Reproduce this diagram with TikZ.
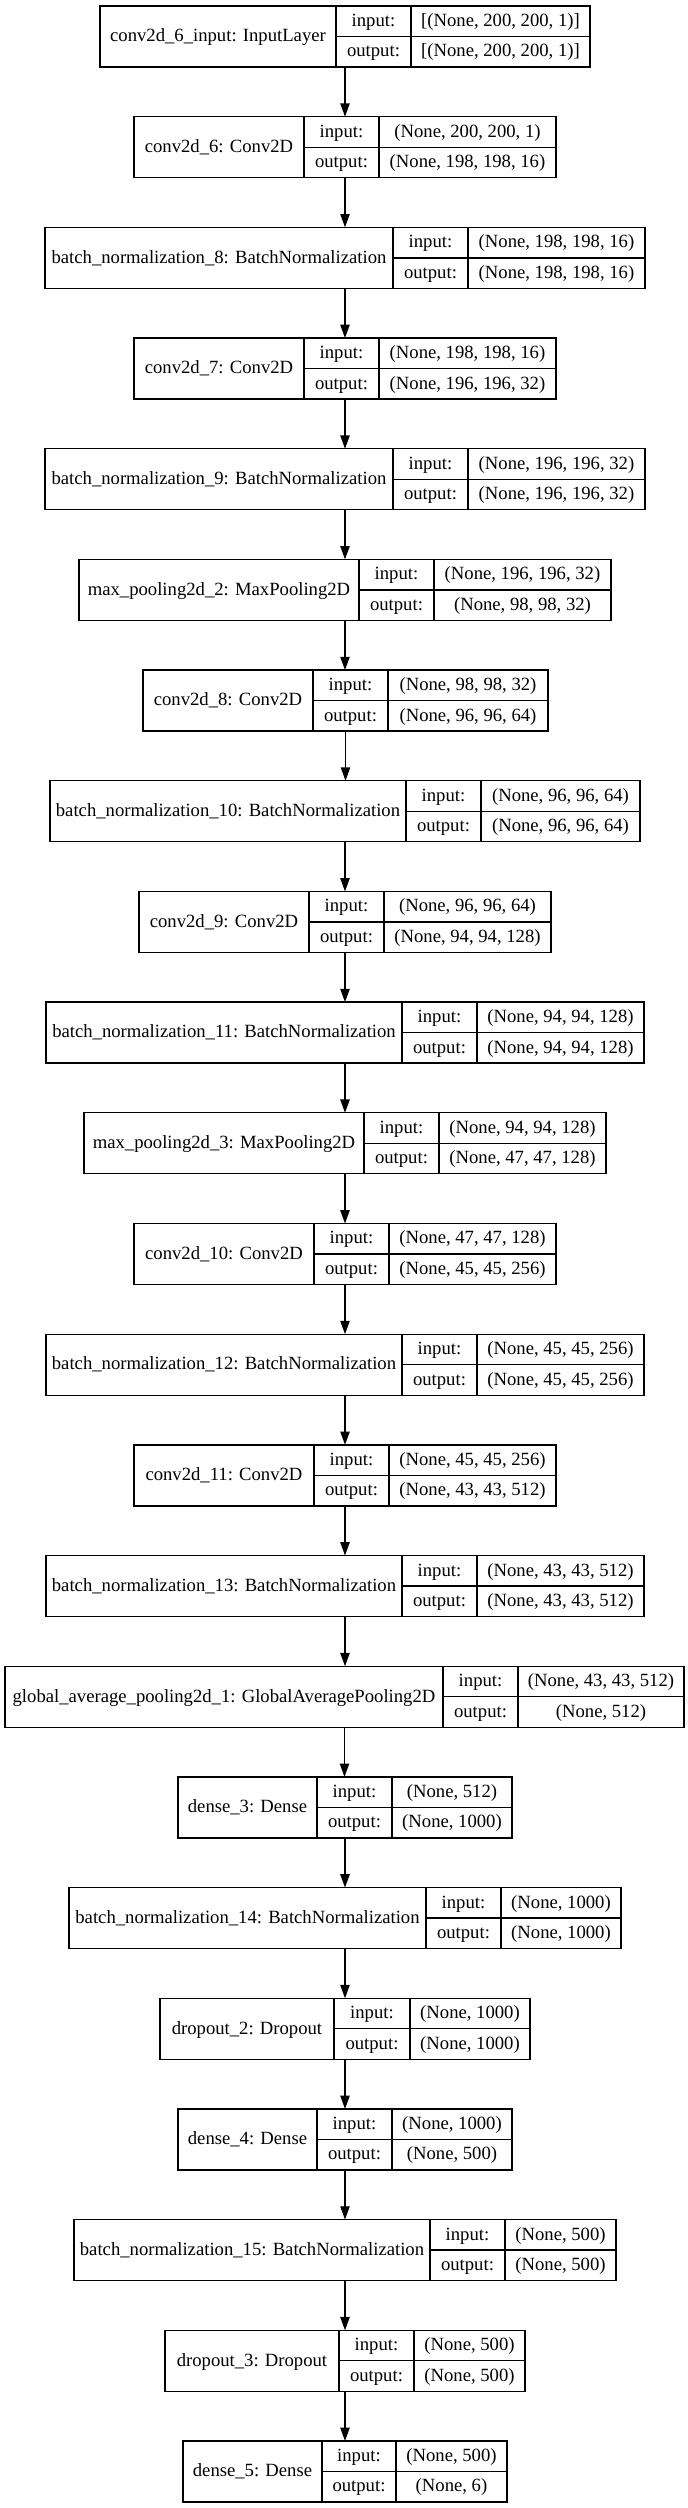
\documentclass[tikz,border=0pt]{standalone}
\usepackage{fontspec}
\setmainfont{Liberation Serif}
\usetikzlibrary{arrows.meta}
\tikzset{
  box/.style={draw=black, line width=1pt, inner sep=0pt, outer sep=0pt, minimum height=45.75pt},
  cellline/.style={draw=black, line width=1pt},
  txt/.style={inner sep=0pt, outer sep=0pt, anchor=base, font=\fontsize{14pt}{16pt}\selectfont},
  arr/.style={draw=black, line width=1pt, -{Triangle[length=10pt,width=7pt]}}
}
% #1 index, #2 left, #3 divider1, #4 divider2, #5 right, #6 label, #7 input, #8 output
\newcommand{\layerbox}[8]{%
  \pgfmathsetmacro{\ly}{6+110.68*#1}%
  \node[box, minimum width={(#5-#2)*0.75pt}, anchor=north west] (L#1) at ({#2},{\ly}) {};
  \draw[cellline] ({#3},{\ly}) -- ({#3},{\ly+61});
  \draw[cellline] ({#4},{\ly}) -- ({#4},{\ly+61});
  \draw[cellline] ({#3},{\ly+30.5}) -- ({#5},{\ly+30.5});
  \node[txt] at ({(#2+#3)/2},{\ly+35.8}) {#6};
  \node[txt] at ({(#3+#4)/2},{\ly+20.5}) {input:};
  \node[txt] at ({(#3+#4)/2},{\ly+51}) {output:};
  \node[txt] at ({(#4+#5)/2},{\ly+20.5}) {#7};
  \node[txt] at ({(#4+#5)/2},{\ly+51}) {#8};
}
\begin{document}
\begin{tikzpicture}[x=0.75pt,y=-0.75pt]
\useasboundingbox (0,0) rectangle (688,2508);
\fill[white] (0,0) rectangle (688,2508);
\layerbox{0}{100}{336}{411}{590}{conv2d\_6\_input: InputLayer}{[(None, 200, 200, 1)]}{[(None, 200, 200, 1)]}
\layerbox{1}{134}{304}{379}{556}{conv2d\_6: Conv2D}{(None, 200, 200, 1)}{(None, 198, 198, 16)}
\layerbox{2}{45}{393}{468}{645}{batch\_normalization\_8: BatchNormalization}{(None, 198, 198, 16)}{(None, 198, 198, 16)}
\layerbox{3}{134}{304}{379}{556}{conv2d\_7: Conv2D}{(None, 198, 198, 16)}{(None, 196, 196, 32)}
\layerbox{4}{45}{393}{468}{645}{batch\_normalization\_9: BatchNormalization}{(None, 196, 196, 32)}{(None, 196, 196, 32)}
\layerbox{5}{79}{359}{434}{611}{max\_pooling2d\_2: MaxPooling2D}{(None, 196, 196, 32)}{(None, 98, 98, 32)}
\layerbox{6}{143}{313}{388}{548}{conv2d\_8: Conv2D}{(None, 98, 98, 32)}{(None, 96, 96, 64)}
\layerbox{7}{50}{406}{481}{640}{batch\_normalization\_10: BatchNormalization}{(None, 96, 96, 64)}{(None, 96, 96, 64)}
\layerbox{8}{139}{309}{384}{551}{conv2d\_9: Conv2D}{(None, 96, 96, 64)}{(None, 94, 94, 128)}
\layerbox{9}{46}{402}{477}{644}{batch\_normalization\_11: BatchNormalization}{(None, 94, 94, 128)}{(None, 94, 94, 128)}
\layerbox{10}{84}{364}{439}{606}{max\_pooling2d\_3: MaxPooling2D}{(None, 94, 94, 128)}{(None, 47, 47, 128)}
\layerbox{11}{134}{314}{389}{556}{conv2d\_10: Conv2D}{(None, 47, 47, 128)}{(None, 45, 45, 256)}
\layerbox{12}{46}{402}{477}{644}{batch\_normalization\_12: BatchNormalization}{(None, 45, 45, 256)}{(None, 45, 45, 256)}
\layerbox{13}{134}{314}{389}{556}{conv2d\_11: Conv2D}{(None, 45, 45, 256)}{(None, 43, 43, 512)}
\layerbox{14}{46}{402}{477}{644}{batch\_normalization\_13: BatchNormalization}{(None, 43, 43, 512)}{(None, 43, 43, 512)}
\layerbox{15}{5}{443}{518}{684}{global\_average\_pooling2d\_1: GlobalAveragePooling2D}{(None, 43, 43, 512)}{(None, 512)}
\layerbox{16}{178}{317}{392}{512}{dense\_3: Dense}{(None, 512)}{(None, 1000)}
\layerbox{17}{69}{426}{501}{621}{batch\_normalization\_14: BatchNormalization}{(None, 1000)}{(None, 1000)}
\layerbox{18}{160}{334}{410}{530}{dropout\_2: Dropout}{(None, 1000)}{(None, 1000)}
\layerbox{19}{178}{317}{392}{512}{dense\_4: Dense}{(None, 1000)}{(None, 500)}
\layerbox{20}{74}{430}{505}{616}{batch\_normalization\_15: BatchNormalization}{(None, 500)}{(None, 500)}
\layerbox{21}{165}{339}{414}{525}{dropout\_3: Dropout}{(None, 500)}{(None, 500)}
\layerbox{22}{183}{322}{396}{507}{dense\_5: Dense}{(None, 500)}{(None, 6)}
\foreach \a/\b in {0/1,1/2,2/3,3/4,4/5,5/6,6/7,7/8,8/9,9/10,10/11,11/12,12/13,13/14,14/15,15/16,16/17,17/18,18/19,19/20,20/21,21/22}
  \draw[arr] (L\a.south) -- (L\a.south |- L\b.north);
\end{tikzpicture}
\end{document}
